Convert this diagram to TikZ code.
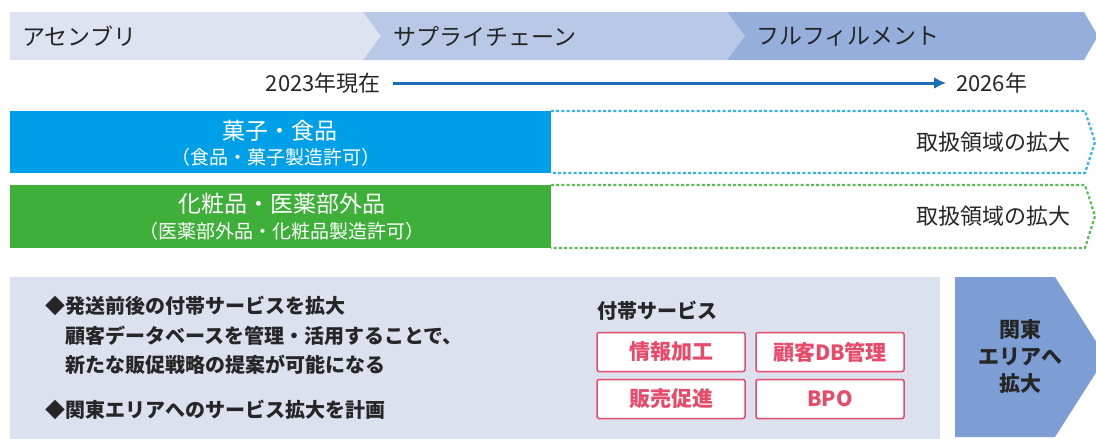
\documentclass[tikz,border=0pt]{standalone}
\usepackage{fontspec}
\setmainfont{Noto Sans CJK JP}
\usepackage{tikz}
\usetikzlibrary{arrows.meta, positioning}
\definecolor{bandA}{HTML}{DDE3F1}
\definecolor{bandB}{HTML}{B9C8E6}
\definecolor{bandC}{HTML}{95AEDB}
\definecolor{foodblue}{HTML}{00A0E9}
\definecolor{cosmgreen}{HTML}{3EAF38}
\definecolor{panel}{HTML}{DCE1F0}
\definecolor{kanto}{HTML}{7C9ED5}
\definecolor{yeararrow}{HTML}{1A6DB6}
\definecolor{svcred}{HTML}{E84A6A}
\definecolor{ink}{HTML}{262626}

\begin{document}
\begin{tikzpicture}[x=1pt,y=-1pt,
  lbl/.style={text=ink,font=\fontsize{22}{26}\selectfont,inner sep=0pt},
  band/.style={lbl,font=\fontsize{23}{26}\selectfont},
  note/.style={text=ink,font=\fontsize{20}{24}\selectfont\bfseries,inner sep=0pt},
  wlbl/.style={text=white,font=\fontsize{23}{26}\selectfont,inner sep=0pt},
  wsub/.style={text=white,font=\fontsize{19}{22}\selectfont,inner sep=0pt},
  svc/.style={draw=svcred,line width=1.5pt,fill=white,rounded corners=2pt,text=svcred,
    minimum width=148pt,minimum height=39pt,font=\fontsize{21}{24}\selectfont\bfseries},
  dots/.style={line width=2.2pt,dash pattern=on 3pt off 2.2pt}]
\useasboundingbox (0,0) rectangle (1096,439);
\fill[bandA] (10,12)--(363,12)--(381,36)--(363,60)--(10,60)--cycle;
\fill[bandB] (363,12)--(727,12)--(745,36)--(727,60)--(363,60)--(381,36)--cycle;
\fill[bandC] (727,12)--(1084,12)--(1098,36)--(1084,60)--(727,60)--(745,36)--cycle;
\node[band] (asm) at (22,36)[right]{アセンブリ};
\node[band] (scm) at (393,36)[right]{サプライチェーン};
\node[band] (ful) at (756,36)[right]{フルフィルメント};
\node[lbl] (now) at (381,83)[left]{2023年現在};
\node[lbl] (goal) at (956,83)[right]{2026年};
\draw[yeararrow,line width=3pt,-{Latex[length=12pt,width=12pt]},shorten <=12pt,shorten >=10pt] (now)--(goal);
\fill[foodblue] (10,111) rectangle (551,173);
\draw[foodblue!80,dots] (551,111)--(1085,111)--(1095,142)--(1085,173)--(551,173);
\node[wlbl] (food) at (280,131){菓子・食品};
\node[wsub] (foodsub) at (276,157){（食品・菓子製造許可）};
\node[lbl] (foodx) at (1071,142)[left]{取扱領域の拡大};
\fill[cosmgreen] (10,185) rectangle (551,248);
\draw[cosmgreen!85,dots] (551,185)--(1085,185)--(1095,216)--(1085,248)--(551,248);
\node[wlbl] (cosm) at (282,204){化粧品・医薬部外品};
\node[wsub] (cosmsub) at (282,231){（医薬部外品・化粧品製造許可）};
\node[lbl] (cosmx) at (1071,216)[left]{取扱領域の拡大};
\fill[panel] (10,277) rectangle (940,445);
\fill[kanto] (955,277)--(1055,277)--(1106,357)--(1055,437)--(955,437)--cycle;
\node[note] (p1) at (45,306)[right]{◆発送前後の付帯サービスを拡大};
\node[note] (p2) at (65,336)[right]{顧客データベースを管理・活用することで、};
\node[note] (p3) at (65,365)[right]{新たな販促戦略の提案が可能になる};
\node[note] (p4) at (45,410)[right]{◆関東エリアへのサービス拡大を計画};
\node[note] (svchead) at (597,311)[right]{付帯サービス};
\node[svc] (info) at (671,352){情報加工};
\node[svc] (crm) at (830,352){顧客DB管理};
\node[svc] (promo) at (671,399){販売促進};
\node[svc] (bpo) at (830,399){BPO};
\node[note,align=center,font=\fontsize{21}{27}\selectfont\bfseries] (area) at (1020,357){関東\\エリアへ\\拡大};
\end{tikzpicture}
\end{document}
